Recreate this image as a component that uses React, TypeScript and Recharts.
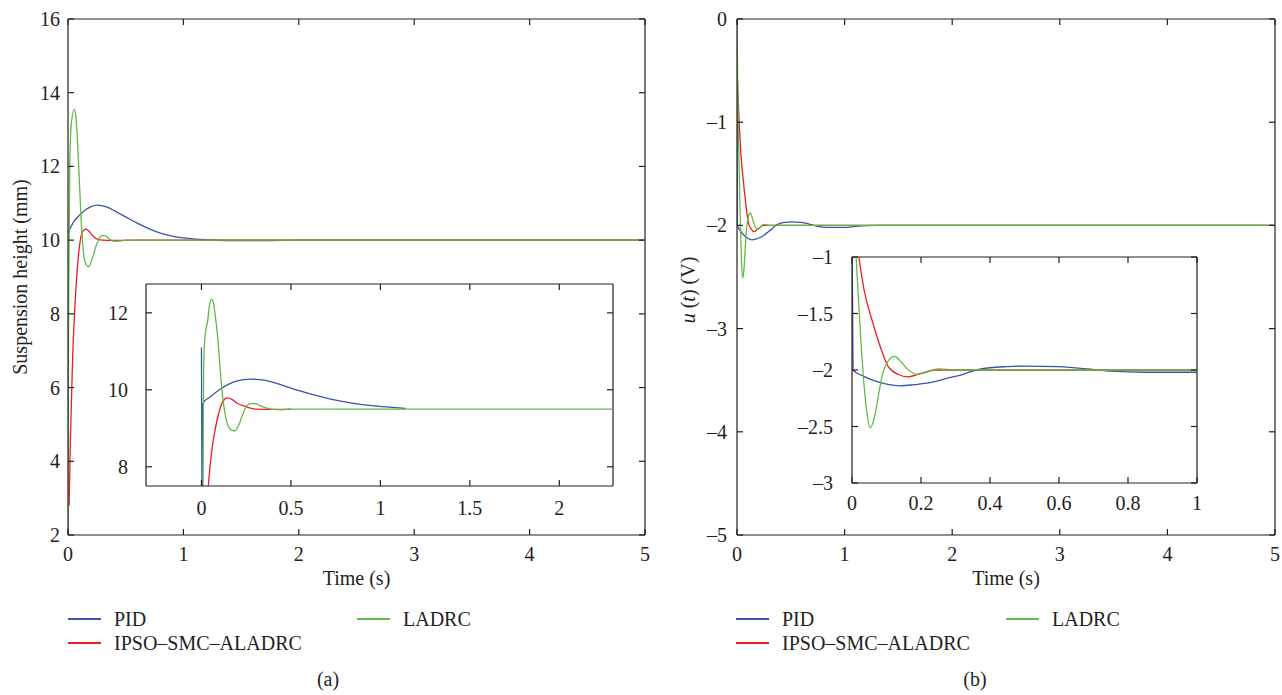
import { LineChart, Line, XAxis, YAxis, ReferenceLine } from "recharts";

type Pt = { t: number; v: number };

const ink = "#231f20";
const serif = "'Liberation Serif', 'DejaVu Serif', serif";

const seriesNames = ["PID", "IPSO–SMC–ALADRC", "LADRC"];
const seriesColors = ["#3a55a5", "#ed1c24", "#62b947"];

// (a) suspension height, main plot
const pidHeight: Pt[] = [
  { t: 0, v: 10.2 }, { t: 0.05, v: 10.5 }, { t: 0.1, v: 10.68 }, { t: 0.15, v: 10.82 },
  { t: 0.2, v: 10.91 }, { t: 0.25, v: 10.95 }, { t: 0.3, v: 10.93 }, { t: 0.35, v: 10.88 },
  { t: 0.4, v: 10.8 }, { t: 0.5, v: 10.63 }, { t: 0.6, v: 10.46 }, { t: 0.7, v: 10.31 },
  { t: 0.8, v: 10.19 }, { t: 0.9, v: 10.11 }, { t: 1.0, v: 10.06 }, { t: 1.1, v: 10.03 },
  { t: 1.2, v: 10.01 }, { t: 1.4, v: 9.99 }, { t: 1.7, v: 9.99 }, { t: 2.0, v: 10 }, { t: 5, v: 10 },
];
const ipsoHeight: Pt[] = [
  { t: 0.01, v: 2.8 }, { t: 0.02, v: 4.5 }, { t: 0.04, v: 6.8 }, { t: 0.06, v: 8.2 },
  { t: 0.08, v: 9.2 }, { t: 0.1, v: 9.85 }, { t: 0.13, v: 10.25 }, { t: 0.155, v: 10.3 },
  { t: 0.18, v: 10.25 }, { t: 0.22, v: 10.1 }, { t: 0.26, v: 10.02 }, { t: 0.3, v: 10.0 },
  { t: 0.4, v: 9.99 }, { t: 0.55, v: 10.0 }, { t: 5, v: 10 },
];
const ladrcHeight: Pt[] = [
  { t: 0, v: 2 }, { t: 0.005, v: 8 }, { t: 0.015, v: 12 }, { t: 0.03, v: 13.2 },
  { t: 0.055, v: 13.55 }, { t: 0.07, v: 13.3 }, { t: 0.09, v: 12.2 }, { t: 0.11, v: 10.8 },
  { t: 0.13, v: 9.8 }, { t: 0.15, v: 9.38 }, { t: 0.18, v: 9.28 }, { t: 0.21, v: 9.5 },
  { t: 0.25, v: 9.9 }, { t: 0.29, v: 10.12 }, { t: 0.32, v: 10.12 }, { t: 0.36, v: 10.03 },
  { t: 0.4, v: 9.97 }, { t: 0.45, v: 9.98 }, { t: 0.5, v: 10 }, { t: 5, v: 10 },
];

// (a) inset
const pidHeightZoom: Pt[] = [
  { t: 0, v: 11.1 }, { t: 0.004, v: 6 }, { t: 0.008, v: 9.65 }, { t: 0.05, v: 9.82 },
  { t: 0.1, v: 10.0 }, { t: 0.15, v: 10.14 }, { t: 0.2, v: 10.23 }, { t: 0.27, v: 10.28 },
  { t: 0.35, v: 10.25 }, { t: 0.45, v: 10.12 }, { t: 0.55, v: 9.97 }, { t: 0.65, v: 9.84 },
  { t: 0.75, v: 9.73 }, { t: 0.85, v: 9.65 }, { t: 0.95, v: 9.59 }, { t: 1.05, v: 9.55 },
  { t: 1.14, v: 9.52 },
];
const ipsoHeightZoom: Pt[] = [
  { t: 0.025, v: 6.5 }, { t: 0.04, v: 7.6 }, { t: 0.06, v: 8.5 }, { t: 0.08, v: 9.05 },
  { t: 0.1, v: 9.45 }, { t: 0.12, v: 9.7 }, { t: 0.145, v: 9.79 }, { t: 0.17, v: 9.75 },
  { t: 0.2, v: 9.65 }, { t: 0.25, v: 9.56 }, { t: 0.3, v: 9.5 }, { t: 0.4, v: 9.49 },
  { t: 0.5, v: 9.5 },
];
const ladrcHeightZoom: Pt[] = [
  { t: 0.008, v: 7.3 }, { t: 0.012, v: 10.5 }, { t: 0.02, v: 11.4 }, { t: 0.035, v: 11.8 },
  { t: 0.045, v: 12.2 }, { t: 0.055, v: 12.35 }, { t: 0.065, v: 12.3 }, { t: 0.075, v: 12.0 },
  { t: 0.09, v: 11.4 }, { t: 0.105, v: 10.5 }, { t: 0.12, v: 9.75 }, { t: 0.14, v: 9.2 },
  { t: 0.16, v: 8.98 }, { t: 0.185, v: 8.93 }, { t: 0.21, v: 9.1 }, { t: 0.23, v: 9.35 },
  { t: 0.25, v: 9.56 }, { t: 0.275, v: 9.64 }, { t: 0.3, v: 9.64 }, { t: 0.33, v: 9.58 },
  { t: 0.36, v: 9.53 }, { t: 0.4, v: 9.49 }, { t: 0.45, v: 9.48 }, { t: 0.5, v: 9.5 },
  { t: 2.3, v: 9.5 },
];

// (b) control voltage u(t), main plot and inset share these
const pidVoltage: Pt[] = [
  { t: 0, v: -0.76 }, { t: 0.003, v: -2.0 }, { t: 0.03, v: -2.05 }, { t: 0.06, v: -2.09 },
  { t: 0.1, v: -2.125 }, { t: 0.14, v: -2.14 }, { t: 0.18, v: -2.13 }, { t: 0.23, v: -2.11 },
  { t: 0.28, v: -2.07 }, { t: 0.32, v: -2.04 }, { t: 0.36, v: -2.0 }, { t: 0.4, v: -1.98 },
  { t: 0.45, v: -1.97 }, { t: 0.5, v: -1.965 }, { t: 0.6, v: -1.97 }, { t: 0.68, v: -1.99 },
  { t: 0.75, v: -2.01 }, { t: 0.85, v: -2.02 }, { t: 1.0, v: -2.02 }, { t: 1.1, v: -2.01 },
  { t: 1.3, v: -2.0 }, { t: 5, v: -2.0 },
];
const ipsoVoltage: Pt[] = [
  { t: 0, v: -0.5 }, { t: 0.01, v: -0.75 }, { t: 0.02, v: -1.0 }, { t: 0.035, v: -1.29 },
  { t: 0.06, v: -1.58 }, { t: 0.085, v: -1.82 }, { t: 0.105, v: -1.97 }, { t: 0.135, v: -2.04 },
  { t: 0.16, v: -2.06 }, { t: 0.2, v: -2.03 }, { t: 0.24, v: -2.0 }, { t: 0.3, v: -2.0 },
  { t: 5, v: -2.0 },
];
const ladrcVoltage: Pt[] = [
  { t: 0, v: 0 }, { t: 0.005, v: -0.5 }, { t: 0.012, v: -1.0 }, { t: 0.02, v: -1.44 },
  { t: 0.032, v: -2.02 }, { t: 0.042, v: -2.35 }, { t: 0.053, v: -2.51 }, { t: 0.065, v: -2.42 },
  { t: 0.078, v: -2.2 }, { t: 0.09, v: -2.02 }, { t: 0.105, v: -1.92 }, { t: 0.123, v: -1.88 },
  { t: 0.14, v: -1.92 }, { t: 0.16, v: -1.99 }, { t: 0.19, v: -2.04 }, { t: 0.215, v: -2.02 },
  { t: 0.25, v: -1.99 }, { t: 0.3, v: -2.0 }, { t: 5, v: -2.0 },
];

const timeTicks = [0, 1, 2, 3, 4, 5];
const heightTicks = [2, 4, 6, 8, 10, 12, 14, 16];
const heightZoomTimeTicks = [0, 0.5, 1, 1.5, 2];
const heightZoomTicks = [8, 10, 12];
const voltageTicks = [-5, -4, -3, -2, -1, 0];
const voltageZoomTimeTicks = [0, 0.2, 0.4, 0.6, 0.8, 1];
const voltageZoomTicks = [-3, -2.5, -2, -1.5, -1];

const fmt = (v: number) => (v < 0 ? "–" + Math.abs(v) : String(v));

type Box = { left: number; top: number; right: number; bottom: number };

// inward ticks on both opposite edges, label outside
const bottomTick = (b: Box, gap: number) => (p: any) => (
  <g>
    <line x1={p.x} x2={p.x} y1={b.bottom} y2={b.bottom - 6} stroke={ink} strokeWidth={1.2} />
    <line x1={p.x} x2={p.x} y1={b.top} y2={b.top + 6} stroke={ink} strokeWidth={1.2} />
    <text x={p.x} y={b.bottom + gap} textAnchor="middle" dominantBaseline="central"
      fill={ink} fontSize={20} fontFamily={serif}>{fmt(p.payload.value)}</text>
  </g>
);
const leftTick = (b: Box, gap: number) => (p: any) => (
  <g>
    <line x1={b.left} x2={b.left + 6} y1={p.y} y2={p.y} stroke={ink} strokeWidth={1.2} />
    <line x1={b.right} x2={b.right - 6} y1={p.y} y2={p.y} stroke={ink} strokeWidth={1.2} />
    <text x={b.left - gap} y={p.y} textAnchor="end" dominantBaseline="central"
      fill={ink} fontSize={20} fontFamily={serif}>{fmt(p.payload.value)}</text>
  </g>
);

type PanelOpts = {
  w: number;
  h: number;
  box: Box;
  xDomain: number[];
  yDomain: number[];
  xTicks: number[];
  yTicks: number[];
  xGap: number;
  yGap: number;
  sets: Pt[][];
  xLabel?: any;
  yLabel?: any;
};

function Panel(o: PanelOpts) {
  const axisLine = { stroke: ink, strokeWidth: 1.2 };
  return (
    <LineChart width={o.w} height={o.h}
      margin={{ top: o.box.top, right: o.w - o.box.right, bottom: 0, left: 0 }}>
      <XAxis xAxisId="b" dataKey="t" type="number" domain={o.xDomain} ticks={o.xTicks} interval={0}
        allowDataOverflow height={o.h - o.box.bottom} axisLine={axisLine} tickLine={false} tickSize={0}
        tick={bottomTick(o.box, o.xGap)} label={o.xLabel} />
      <YAxis yAxisId="l" type="number" domain={o.yDomain} ticks={o.yTicks} interval={0}
        allowDataOverflow width={o.box.left} axisLine={axisLine} tickLine={false} tickSize={0}
        tick={leftTick(o.box, o.yGap)} label={o.yLabel} />
      <ReferenceLine xAxisId="b" yAxisId="l" y={o.yDomain[1]} stroke={ink} strokeWidth={1.2} />
      <ReferenceLine xAxisId="b" yAxisId="l" x={o.xDomain[1]} stroke={ink} strokeWidth={1.2} />
      {o.sets.map((d, i) => (
        <Line key={seriesNames[i]} xAxisId="b" yAxisId="l" data={d} dataKey="v" name={seriesNames[i]}
          type="monotone" stroke={seriesColors[i]} strokeWidth={1.3} dot={false} isAnimationActive={false} />
      ))}
    </LineChart>
  );
}

const timeLabel = (cx: number) => () => (
  <text x={cx} y={578} textAnchor="middle" dominantBaseline="central" fill={ink} fontSize={20} fontFamily={serif}>
    Time (s)
  </text>
);

const heightLabel = () => (
  <text x={20} y={277} transform="rotate(-90 20 277)" textAnchor="middle" dominantBaseline="central"
    fill={ink} fontSize={20} fontFamily={serif}>
    Suspension height (mm)
  </text>
);

const voltageLabel = () => (
  <text x={16} y={290} transform="rotate(-90 16 290)" textAnchor="middle" dominantBaseline="central"
    fill={ink} fontSize={20} fontFamily={serif}>
    <tspan fontStyle="italic">u</tspan> (<tspan fontStyle="italic">t</tspan>) (V)
  </text>
);

function Legend({ left, second }: { left: number; second: number }) {
  const items = [
    { i: 0, x: left, y: 619 },
    { i: 1, x: left, y: 643 },
    { i: 2, x: second, y: 619 },
  ];
  return (
    <>
      {items.map(({ i, x, y }) => (
        <div key={i} style={{ position: "absolute", left: x, top: y - 12, height: 24, display: "flex", alignItems: "center" }}>
          <div style={{ width: 33, height: 1.6, background: seriesColors[i] }} />
          <span style={{ marginLeft: 13, fontSize: 20, fontFamily: serif, color: ink, whiteSpace: "nowrap" }}>
            {seriesNames[i]}
          </span>
        </div>
      ))}
    </>
  );
}

function Caption({ x, text }: { x: number; text: string }) {
  return (
    <div style={{ position: "absolute", left: x - 30, top: 668, width: 60, textAlign: "center", fontSize: 20, fontFamily: serif, color: ink }}>
      {text}
    </div>
  );
}

export default function App() {
  return (
    <div style={{ position: "absolute", left: 0, top: 0, width: 1282, height: 695, background: "#fff", overflow: "hidden" }}>
      <div style={{ position: "absolute", left: 0, top: 0 }}>
        <Panel w={660} h={590} box={{ left: 68, top: 19, right: 645, bottom: 535 }}
          xDomain={[0, 5]} yDomain={[2, 16]} xTicks={timeTicks} yTicks={heightTicks} xGap={19} yGap={8}
          sets={[pidHeight, ipsoHeight, ladrcHeight]}
          xLabel={{ content: timeLabel(356.5) }} yLabel={{ content: heightLabel }} />
      </div>
      <div style={{ position: "absolute", left: 100, top: 270 }}>
        <Panel w={530} h={250} box={{ left: 46, top: 14, right: 513, bottom: 216 }}
          xDomain={[-0.31, 2.3]} yDomain={[7.5, 12.75]} xTicks={heightZoomTimeTicks} yTicks={heightZoomTicks}
          xGap={22} yGap={18} sets={[pidHeightZoom, ipsoHeightZoom, ladrcHeightZoom]} />
      </div>

      <div style={{ position: "absolute", left: 672, top: 0 }}>
        <Panel w={610} h={590} box={{ left: 65, top: 19, right: 603, bottom: 535 }}
          xDomain={[0, 5]} yDomain={[-5, 0]} xTicks={timeTicks} yTicks={voltageTicks} xGap={19} yGap={10}
          sets={[pidVoltage, ipsoVoltage, ladrcVoltage]}
          xLabel={{ content: timeLabel(334) }} yLabel={{ content: voltageLabel }} />
      </div>
      <div style={{ position: "absolute", left: 790, top: 245 }}>
        <Panel w={420} h={270} box={{ left: 62, top: 12, right: 407, bottom: 238 }}
          xDomain={[0, 1]} yDomain={[-3, -1]} xTicks={voltageZoomTimeTicks} yTicks={voltageZoomTicks}
          xGap={20} yGap={19} sets={[pidVoltage, ipsoVoltage, ladrcVoltage]} />
      </div>

      <Legend left={68} second={357} />
      <Legend left={736} second={1006} />
      <Caption x={328} text="(a)" />
      <Caption x={975} text="(b)" />
    </div>
  );
}
